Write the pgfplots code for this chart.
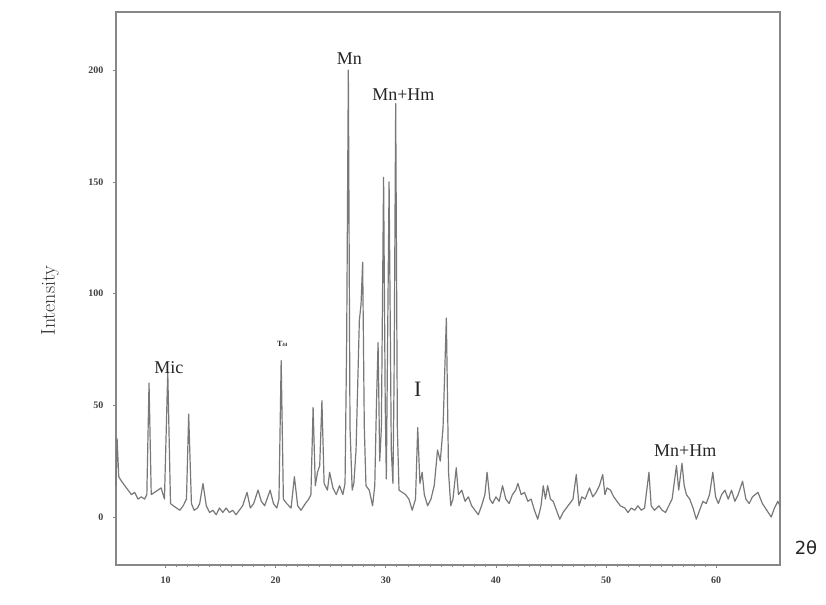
\documentclass[border=0pt]{standalone}
\usepackage{pgfplots}
\pgfplotsset{compat=1.18}
\usepackage{fontspec}
\newfontfamily\tms{Liberation Serif}
\newfontfamily\dsans{DejaVu Sans}
\definecolor{trace}{RGB}{120,120,120}
\definecolor{axgray}{RGB}{135,135,135}
\begin{document}
\begin{tikzpicture}
\begin{axis}[
  scale only axis, width=664pt, height=553pt,
  xmin=5.5, xmax=65.8, ymin=-21.5, ymax=226,
  xtick={10,20,30,40,50,60},
  minor x tick num=9,
  ytick={0,50,100,150,200},
  tick align=outside,
  major tick length=3pt, minor tick length=2.5pt,
  xtick pos=bottom, ytick pos=left,
  axis line style={axgray, line width=1.2pt},
  every tick/.style={axgray, line width=0.6pt},
  /pgf/number format/assume math mode=true,
  ticklabel style={font=\tms\bfseries\fontsize{10}{12}\selectfont, text=black!75},
  xticklabel style={yshift=-5pt},
  yticklabel style={xshift=-6pt},
  clip=false,
]
\addplot[trace, line width=1.2pt, line join=round] coordinates {
(5.5,14)(5.6,35)(5.75,18)(6.0,16)(6.3,14)(6.6,12)(6.9,10)(7.2,11)(7.5,8)(7.8,9)
(8.1,8)(8.3,10)(8.5,60)(8.7,10)(9.0,11)(9.3,12)(9.6,13)(9.9,8)(10.2,65)(10.45,6)
(10.7,5)(11.0,4)(11.3,3)(11.6,5)(11.9,8)(12.1,46)(12.35,6)(12.6,3)(12.9,4)(13.1,6)
(13.4,15)(13.7,5)(14.0,2)(14.3,3)(14.6,1)(14.9,4)(15.2,2)(15.5,4)(15.8,2)(16.1,3)
(16.4,1)(16.7,3)(17.0,5)(17.4,11)(17.7,4)(18.0,6)(18.4,12)(18.7,7)(19.0,5)(19.5,12)
(19.8,6)(20.1,4)(20.3,8)(20.5,70)(20.7,8)(21.0,6)(21.4,4)(21.7,18)(22.0,5)(22.3,3)
(22.7,6)(23.0,8)(23.2,10)(23.4,49)(23.6,14)(23.8,20)(24.0,23)(24.2,52)(24.4,15)(24.7,12)
(24.9,20)(25.2,13)(25.5,10)(25.8,14)(26.1,10)(26.3,15)(26.45,80)(26.6,200)(26.75,40)(26.95,12)
(27.1,15)(27.3,30)(27.6,88)(27.75,95)(27.9,114)(28.05,40)(28.2,14)(28.5,12)(28.8,5)(29.0,14)
(29.15,50)(29.3,78)(29.45,25)(29.6,40)(29.8,152)(29.95,50)(30.05,17)(30.3,150)(30.5,30)(30.65,15)
(30.75,60)(30.9,185)(31.05,40)(31.2,12)(31.5,11)(31.8,10)(32.1,8)(32.4,3)(32.7,8)(32.9,40)
(33.1,15)(33.3,20)(33.5,10)(33.8,5)(34.1,8)(34.4,14)(34.7,30)(34.95,25)(35.2,40)(35.5,89)
(35.7,20)(35.9,5)(36.1,8)(36.4,22)(36.6,10)(36.9,12)(37.2,7)(37.5,9)(37.8,5)(38.1,3)
(38.4,1)(38.7,5)(39.0,10)(39.2,20)(39.45,8)(39.7,6)(40.0,9)(40.3,7)(40.6,14)(40.9,8)
(41.2,6)(41.5,10)(41.8,12)(42.0,15)(42.3,10)(42.6,11)(42.9,7)(43.2,8)(43.5,3)(43.8,-1)
(44.1,5)(44.3,14)(44.5,8)(44.7,14)(44.95,8)(45.2,7)(45.5,3)(45.8,-1)(46.1,2)(46.4,4)
(46.7,6)(47.0,8)(47.3,19)(47.55,5)(47.8,9)(48.1,8)(48.5,13)(48.8,9)(49.1,11)(49.4,14)
(49.7,19)(49.9,10)(50.1,13)(50.4,12)(50.7,9)(51.0,7)(51.3,5)(51.7,4)(52.0,2)(52.3,4)
(52.6,3)(52.9,5)(53.2,3)(53.5,4)(53.9,20)(54.1,5)(54.4,3)(54.8,5)(55.1,3)(55.4,2)
(55.7,5)(56.0,8)(56.4,23)(56.6,12)(56.9,24)(57.1,14)(57.3,10)(57.6,8)(57.9,4)(58.2,-1)
(58.5,3)(58.8,7)(59.1,6)(59.4,10)(59.7,20)(59.95,9)(60.2,6)(60.5,10)(60.8,12)(61.1,8)
(61.4,12)(61.7,7)(62.0,10)(62.4,16)(62.7,8)(63.0,6)(63.3,9)(63.8,11)(64.2,6)(64.6,3)
(65.0,0)(65.3,4)(65.6,7)(65.8,5)
};
\node[font=\tms\fontsize{18}{21}\selectfont, text=black!85] at (axis cs:26.7,205) {Mn};
\node[font=\tms\fontsize{18}{21}\selectfont, text=black!85] at (axis cs:31.6,189) {Mn+Hm};
\node[font=\tms\fontsize{18}{21}\selectfont, text=black!85] at (axis cs:10.3,67) {Mic};
\node[font=\tms\bfseries\fontsize{8}{9}\selectfont, text=black!85] at (axis cs:20.6,77.5) {T\raisebox{-0.2ex}{\tiny 44}};
\node[font=\tms\fontsize{22}{25}\selectfont, text=black!85] at (axis cs:32.9,57) {I};
\node[font=\tms\fontsize{18}{21}\selectfont, text=black!85] at (axis cs:57.2,29.5) {Mn+Hm};
\end{axis}
\node[rotate=90, font=\fontsize{20}{24}\selectfont, text=black!80] at ([xshift=-66pt,yshift=-12pt]current axis.west) {Intensity};
\node[font=\dsans\fontsize{18}{21}\selectfont, text=black!85] at ([xshift=26pt,yshift=17pt]current axis.south east) {2θ};
\path ([xshift=-116pt,yshift=-40pt]current axis.south west) ([xshift=46pt,yshift=12pt]current axis.north east);
\end{tikzpicture}
\end{document}
